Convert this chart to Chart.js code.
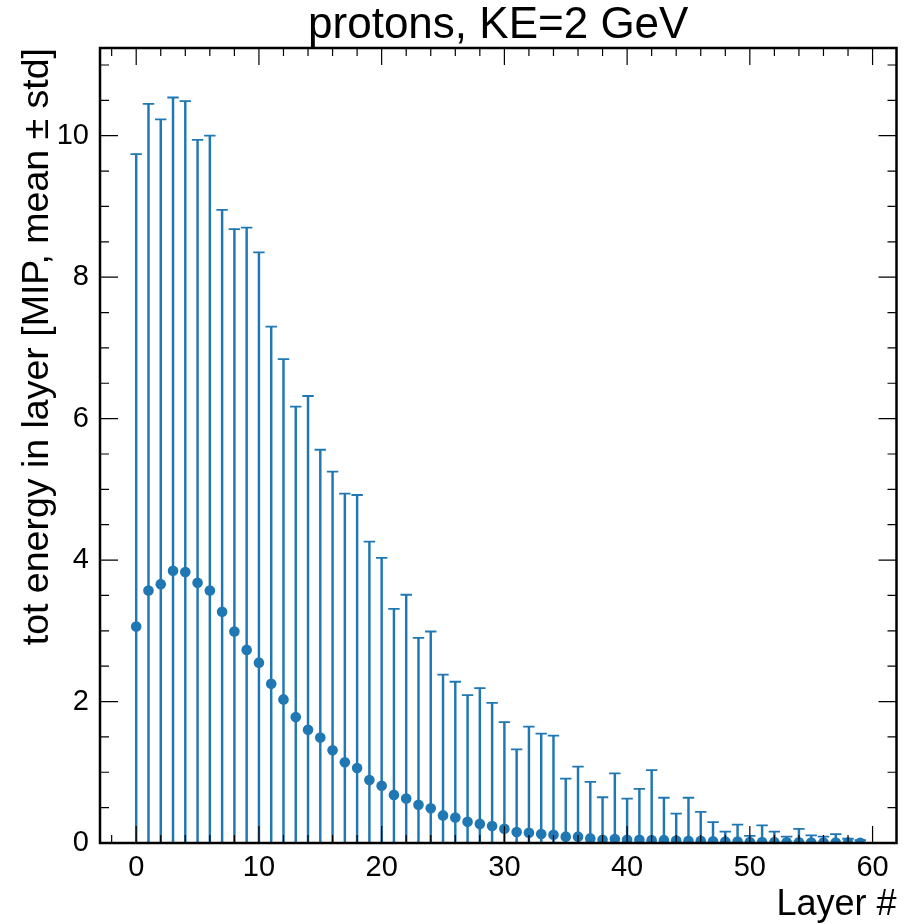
<!DOCTYPE html>
<html>
<head>
<meta charset="utf-8">
<script src="https://cdn.jsdelivr.net/npm/chart.js@4.4.1/dist/chart.umd.min.js"></script>
<style>
  body { margin: 0; background: #fff; }
  #wrap { width: 904px; height: 924px; }
</style>
</head>
<body>
<div id="wrap"><canvas id="myChart"></canvas></div>
<script>
const layers = [0, 1, 2, 3, 4, 5, 6, 7, 8, 9, 10, 11, 12, 13, 14, 15, 16, 17, 18, 19,
  20, 21, 22, 23, 24, 25, 26, 27, 28, 29, 30, 31, 32, 33, 34, 35, 36, 37, 38, 39,
  40, 41, 42, 43, 44, 45, 46, 47, 48, 49, 50, 51, 52, 53, 54, 55, 56, 57, 58, 59];

// mean energy per layer [MIP]
const means = [3.06, 3.57, 3.66, 3.85, 3.83, 3.68, 3.57, 3.27, 2.99, 2.73,
  2.55, 2.25, 2.03, 1.78, 1.60, 1.49, 1.31, 1.14, 1.06, 0.89,
  0.81, 0.68, 0.63, 0.54, 0.49, 0.39, 0.36, 0.30, 0.27, 0.24,
  0.20, 0.155, 0.145, 0.127, 0.117, 0.09, 0.09, 0.065, 0.047, 0.055,
  0.047, 0.045, 0.04, 0.04, 0.035, 0.03, 0.03, 0.025, 0.02, 0.02,
  0.015, 0.015, 0.012, 0.01, 0.01, 0.008, 0.007, 0.006, 0.005, 0.004];

// standard deviation per layer [MIP]
const stds = [6.68, 6.88, 6.57, 6.69, 6.66, 6.26, 6.43, 5.68, 5.69, 5.97,
  5.80, 5.05, 4.81, 4.39, 4.72, 4.07, 3.94, 3.80, 3.86, 3.37,
  3.22, 2.63, 2.88, 2.36, 2.50, 1.99, 1.92, 1.79, 1.92, 1.74,
  1.51, 1.17, 1.50, 1.42, 1.40, 0.82, 0.99, 0.80, 0.60, 0.93,
  0.58, 0.72, 0.99, 0.60, 0.38, 0.61, 0.41, 0.27, 0.14, 0.24,
  0.085, 0.235, 0.15, 0.08, 0.19, 0.10, 0.083, 0.12, 0.055, 0.036];

const xMajor = [0, 10, 20, 30, 40, 50, 60];
const xMinor = [-2, 0, 2, 4, 6, 8, 10, 12, 14, 16, 18, 20, 22, 24, 26, 28, 30,
  32, 34, 36, 38, 40, 42, 44, 46, 48, 50, 52, 54, 56, 58, 60];
const yMajor = [0, 2, 4, 6, 8, 10];
const yMinor = [0, 0.5, 1, 1.5, 2, 2.5, 3, 3.5, 4, 4.5, 5, 5.5, 6, 6.5, 7, 7.5,
  8, 8.5, 9, 9.5, 10, 10.5, 11];

const blue = "#1f77b4";
const font = "'Liberation Sans', Arial, sans-serif";

// box frame with inward ticks on all four sides
const frameTicks = {
  id: "frameTicks",
  afterDraw(chart) {
    const { ctx, chartArea: a, scales: { x, y } } = chart;
    ctx.save();
    ctx.strokeStyle = "#000";
    ctx.lineWidth = 1.2;
    ctx.beginPath();
    const xt = (vals, len) => vals.forEach(v => {
      const px = x.getPixelForValue(v);
      ctx.moveTo(px, a.bottom); ctx.lineTo(px, a.bottom - len);
      ctx.moveTo(px, a.top); ctx.lineTo(px, a.top + len);
    });
    const yt = (vals, len) => vals.forEach(v => {
      const py = y.getPixelForValue(v);
      ctx.moveTo(a.left, py); ctx.lineTo(a.left + len, py);
      ctx.moveTo(a.right, py); ctx.lineTo(a.right - len, py);
    });
    xt(xMinor, 8); xt(xMajor, 17);
    yt(yMinor, 9); yt(yMajor, 18);
    ctx.stroke();
    ctx.lineWidth = 2.5;
    ctx.strokeRect(a.left, a.top, a.width, a.height);
    ctx.restore();
  }
};

const ctx = document.querySelector("#myChart").getContext("2d");

const config = {
  type: "scatter",
  data: {
    datasets: [
      {
        label: "mean",
        data: layers.map((l, i) => ({ x: l, y: means[i] })),
        pointRadius: 5.3,
        backgroundColor: blue,
        borderWidth: 0,
        clip: 0,
        order: 0,
      },
      {
        label: "cap",
        data: layers.map((l, i) => ({ x: l, y: means[i] + stds[i] })),
        pointStyle: "line",
        pointRadius: 5.7,
        borderColor: blue,
        borderWidth: 1.8,
        clip: 0,
        order: 1,
      },
      {
        type: "bar",
        label: "std",
        data: layers.map((l, i) => ({ x: l, y: [means[i] - stds[i], means[i] + stds[i]] })),
        backgroundColor: blue,
        borderWidth: 0,
        barThickness: 1.8,
        grouped: false,
        clip: 0,
        order: 2,
      },
    ],
  },
  options: {
    responsive: true,
    maintainAspectRatio: false,
    devicePixelRatio: 1,
    animation: false,
    events: [],
    layout: { padding: { right: 3 } },
    plugins: {
      legend: { display: false },
      tooltip: { enabled: false },
      title: {
        display: true,
        text: "protons, KE=2 GeV",
        fullSize: false,
        color: "#000",
        font: { family: font, size: 44, weight: "normal", lineHeight: 1 },
        padding: { top: 4, bottom: 0 },
      },
    },
    scales: {
      x: {
        type: "linear",
        min: -2.95,
        max: 61.95,
        offset: false,
        afterFit: (s) => { s.height = 81; },
        grid: { display: false },
        border: { display: false },
        ticks: {
          stepSize: 10,
          includeBounds: false,
          maxRotation: 0,
          padding: 2,
          color: "#000",
          font: { family: font, size: 29, lineHeight: 1 },
        },
        title: {
          display: true,
          text: "Layer #",
          align: "end",
          color: "#000",
          font: { family: font, size: 36, lineHeight: 1.05 },
          padding: { top: 0, bottom: 0 },
        },
      },
      y: {
        type: "linear",
        min: 0,
        max: 11.24,
        afterFit: (s) => { s.width = 100; },
        grid: { display: false },
        border: { display: false },
        ticks: {
          stepSize: 2,
          includeBounds: false,
          padding: 3,
          color: "#000",
          font: { family: font, size: 29 },
        },
        title: {
          display: true,
          text: "tot energy in layer [MIP, mean ± std]",
          align: "end",
          color: "#000",
          font: { family: font, size: 37.5, lineHeight: 1.2 },
          padding: { top: 15, bottom: 0 },
        },
      },
    },
  },
  plugins: [frameTicks],
};

const myChart = new Chart(ctx, config);
</script>
</body>
</html>
